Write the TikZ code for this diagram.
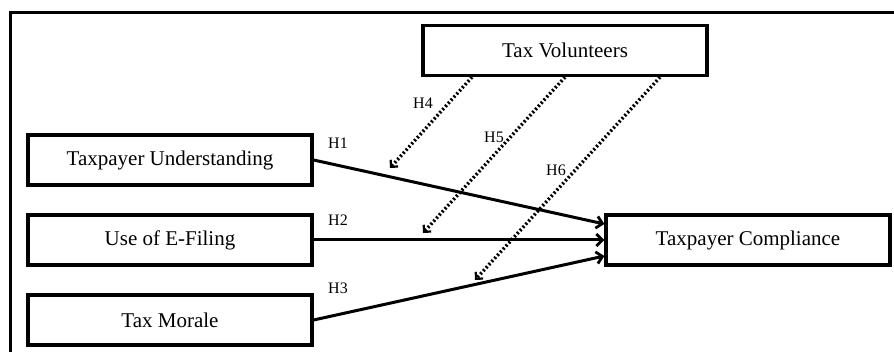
\documentclass[tikz,border=0pt]{standalone}
\usepackage{fontspec}
\setmainfont{Liberation Serif}
\usetikzlibrary{arrows.meta}
\begin{document}
\begin{tikzpicture}[x=1pt,y=-1pt,
		varbox/.style={draw=black,line width=3.2pt,minimum width=284pt,minimum height=50pt,inner sep=0pt,font=\fontsize{21}{25}\selectfont},
		hyp/.style={inner sep=0pt,font=\fontsize{16}{18}\selectfont},
		direct/.style={black,line width=3pt,-{Straight Barb[length=6pt,width=12pt,line width=2.8pt]}},
		moder/.style={black,line width=3.4pt,dash pattern=on 2pt off 2.2pt,-{Straight Barb[length=5pt,width=10pt,line width=2.2pt]}}]
			\clip (0,0) rectangle (894,352);
			\fill[white] (0,0) rectangle (894,352);
			% outer frame, cut off at right and bottom
			\draw[black,line width=3pt] (10,370) -- (10,13) -- (910,13);
			
			\node[varbox](und) at (170,160){Taxpayer Understanding};
			\node[varbox](efil) at (170,240){Use of E-Filing};
			\node[varbox](mor) at (170,320){Tax Morale};
			\node[varbox](comp) at (748,240){Taxpayer Compliance};
			\node[varbox](vol) at (565,50.5){Tax Volunteers};
			
			\coordinate(h4end) at (390,168);
			\coordinate(h5end) at (423,233);
			\coordinate(h6end) at (475,280);
			
			\node[hyp](h1) at (338,143){H1};
			\node[hyp](h2) at (338,220){H2};
			\node[hyp](h3) at (338,288){H3};
			\node[hyp](h4) at (423,103){H4};
			\node[hyp](h5) at (494,137){H5};
			\node[hyp](h6) at (556,170){H6};
			
			\draw[direct](und.east)--([yshift=16pt]comp.west);
			\draw[direct](efil.east)--(comp.west);
			\draw[direct](mor.east)--([yshift=-16pt]comp.west);
			\draw[moder]([xshift=-93pt]vol.south)--(h4end);
			\draw[moder](vol.south)--(h5end);
			\draw[moder]([xshift=95pt]vol.south)--(h6end);
		\end{tikzpicture}
\end{document}
